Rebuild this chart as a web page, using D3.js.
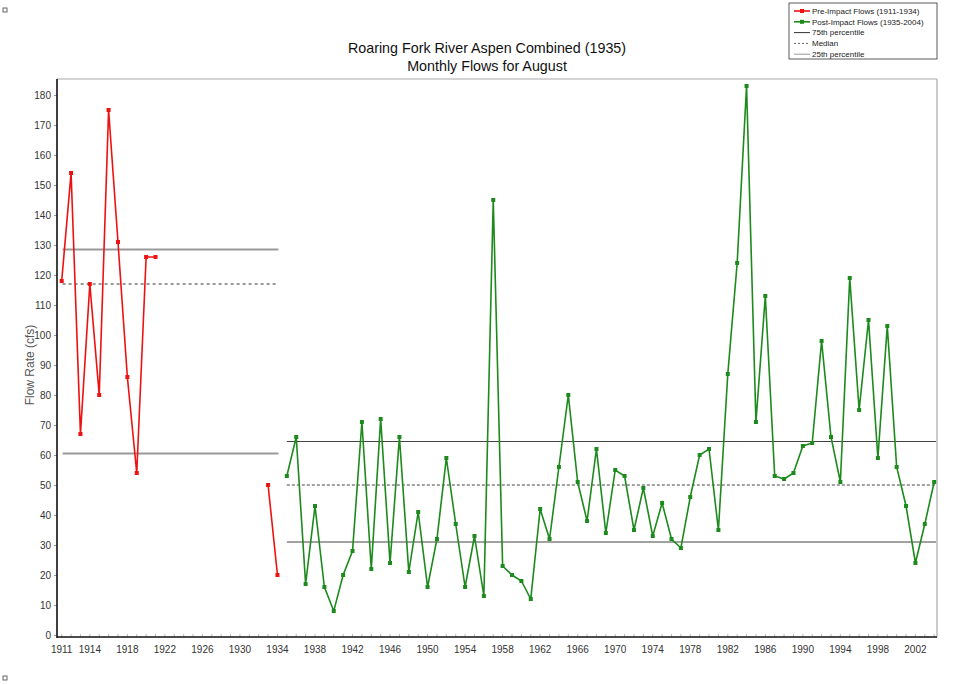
<!doctype html>
<html>
<head>
  <meta charset="utf-8">
  <script src="https://d3js.org/d3.v7.min.js"></script>
  <style>
    body {margin: 0; background: #fff;}
    text {font-family: "Liberation Sans", Arial, sans-serif;}
  </style>
</head>
<body>
  <svg id="chart" width="956" height="685"></svg>
  <script>
    const width = 956, height = 685

    // pre-impact flows, null = no record
    const preYears = [1911, 1912, 1913, 1914, 1915, 1916, 1917, 1918, 1919, 1920, 1921, 1922,
      1923, 1924, 1925, 1926, 1927, 1928, 1929, 1930, 1931, 1932, 1933, 1934]
    const preFlows = [118, 154, 67, 117, 80, 175, 131, 86, 54, 126, 126, null,
      null, null, null, null, null, null, null, null, null, null, 50, 20]

    const postYears = [1935, 1936, 1937, 1938, 1939, 1940, 1941, 1942, 1943, 1944,
      1945, 1946, 1947, 1948, 1949, 1950, 1951, 1952, 1953, 1954,
      1955, 1956, 1957, 1958, 1959, 1960, 1961, 1962, 1963, 1964,
      1965, 1966, 1967, 1968, 1969, 1970, 1971, 1972, 1973, 1974,
      1975, 1976, 1977, 1978, 1979, 1980, 1981, 1982, 1983, 1984,
      1985, 1986, 1987, 1988, 1989, 1990, 1991, 1992, 1993, 1994,
      1995, 1996, 1997, 1998, 1999, 2000, 2001, 2002, 2003, 2004]
    const postFlows = [53, 66, 17, 43, 16, 8, 20, 28, 71, 22,
      72, 24, 66, 21, 41, 16, 32, 59, 37, 16,
      33, 13, 145, 23, 20, 18, 12, 42, 32, 56,
      80, 51, 38, 62, 34, 55, 53, 35, 49, 33,
      44, 32, 29, 46, 60, 62, 35, 87, 124, 183,
      71, 113, 53, 52, 54, 63, 64, 98, 66, 51,
      119, 75, 105, 59, 103, 56, 43, 24, 37, 51]

    // 25th, median, 75th
    const prePct = [60.5, 117, 128.5]
    const postPct = [31, 50, 64.5]

    const xLabels = [1911, 1914, 1918, 1922, 1926, 1930, 1934, 1938, 1942, 1946, 1950, 1954,
      1958, 1962, 1966, 1970, 1974, 1978, 1982, 1986, 1990, 1994, 1998, 2002]
    const yTicks = [0, 10, 20, 30, 40, 50, 60, 70, 80, 90, 100, 110, 120, 130, 140, 150, 160, 170, 180]

    const legendLabels = ['Pre-Impact Flows (1911-1934)', 'Post-Impact Flows (1935-2004)',
      '75th percentile', 'Median', '25th percentile']

    const pLeft = 57, pRight = 937, pTop = 79, pBottom = 637
    const red = '#ee1111', green = '#1d8a1d'

    const x = d3.scaleLinear().domain([1910.5, 2004.3]).range([pLeft, pRight])
    const y = d3.scaleLinear().domain([0, 180]).range([635, 95])

    const svg = d3.select('#chart')

    // tiny corner boxes
    svg.append('rect').attr('x', 3).attr('y', 8).attr('width', 4).attr('height', 4)
      .attr('fill', '#fff').attr('stroke', '#666').attr('stroke-width', 1)
    svg.append('rect').attr('x', 3).attr('y', 676).attr('width', 4).attr('height', 4)
      .attr('fill', '#fff').attr('stroke', '#666').attr('stroke-width', 1)

    // title
    svg.append('text').attr('x', 487).attr('y', 53).attr('text-anchor', 'middle')
      .attr('font-size', 14.3).attr('fill', '#111').text('Roaring Fork River Aspen Combined (1935)')
    svg.append('text').attr('x', 487).attr('y', 71).attr('text-anchor', 'middle')
      .attr('font-size', 14.3).attr('fill', '#111').text('Monthly Flows for August')

    // frame
    svg.append('line').attr('x1', pLeft).attr('x2', pRight).attr('y1', pTop).attr('y2', pTop)
      .attr('stroke', '#aaa').attr('stroke-width', 1.2)
    svg.append('line').attr('x1', pRight).attr('x2', pRight).attr('y1', pTop).attr('y2', pBottom)
      .attr('stroke', '#aaa').attr('stroke-width', 1.2)

    // x axis: minor ticks every year, labels picked
    const allYears = d3.range(1911, 2005)
    const xAxis = svg.append('g').attr('transform', `translate(0,${pBottom})`)
    xAxis.selectAll('line.minor').data(allYears).join('line').attr('class', 'minor')
      .attr('x1', d => x(d)).attr('x2', d => x(d)).attr('y1', 0).attr('y2', -3)
      .attr('stroke', '#aaa').attr('stroke-width', 0.8)
    xAxis.selectAll('text').data(xLabels).join('text')
      .attr('x', d => x(d)).attr('y', 16).attr('text-anchor', 'middle')
      .attr('font-size', 10).attr('fill', '#333').text(d => d)
    xAxis.append('line').attr('x1', pLeft).attr('x2', pRight).attr('stroke', '#111').attr('stroke-width', 1.6)

    // y axis
    const yAxis = svg.append('g').attr('transform', `translate(${pLeft},0)`)
      .call(d3.axisLeft(y).tickValues(yTicks).tickSize(3).tickPadding(3))
    yAxis.select('.domain').remove()
    yAxis.selectAll('.tick line').attr('stroke', '#999')
    yAxis.selectAll('.tick text').attr('font-size', 10).attr('fill', '#333')
      .attr('font-family', '"Liberation Sans", Arial, sans-serif')
    svg.append('line').attr('x1', pLeft).attr('x2', pLeft).attr('y1', pTop).attr('y2', pBottom + 1)
      .attr('stroke', '#111').attr('stroke-width', 1.6)

    svg.append('text').attr('transform', 'translate(34,365) rotate(-90)')
      .attr('text-anchor', 'middle').attr('font-size', 12).attr('fill', '#555')
      .text('Flow Rate (cfs)')

    // percentile lines
    prePct.forEach((v, i) => {
      svg.append('line').attr('x1', x(1911.1)).attr('x2', x(1934.1))
        .attr('y1', y(v)).attr('y2', y(v))
        .attr('stroke', '#999').attr('stroke-width', 1.8)
        .attr('stroke-dasharray', i === 1 ? '3,3' : null)
    })
    postPct.forEach((v, i) => {
      svg.append('line').attr('x1', x(1935)).attr('x2', x(2004.2))
        .attr('y1', y(v)).attr('y2', y(v))
        .attr('stroke', '#444').attr('stroke-width', 1)
        .attr('stroke-dasharray', i === 1 ? '3,2' : null)
    })

    // series
    const pre = preYears.map((d, i) => ({year: d, v: preFlows[i]}))
    const post = postYears.map((d, i) => ({year: d, v: postFlows[i]}))
    const line = d3.line().defined(d => d.v !== null).x(d => x(d.year)).y(d => y(d.v))

    function drawSeries(data, col) {
      svg.append('path').datum(data).attr('d', line)
        .attr('fill', 'none').attr('stroke', col).attr('stroke-width', 1.6)
      svg.append('g').selectAll('rect').data(data.filter(d => d.v !== null)).join('rect')
        .attr('x', d => x(d.year) - 2).attr('y', d => y(d.v) - 2)
        .attr('width', 4).attr('height', 4).attr('fill', col)
    }
    drawSeries(pre, red)
    drawSeries(post, green)

    // legend
    const lg = svg.append('g')
    lg.append('rect').attr('x', 789).attr('y', 3).attr('width', 148).attr('height', 56)
      .attr('fill', '#fff').attr('stroke', '#333').attr('stroke-width', 0.8)
    legendLabels.forEach((t, i) => {
      const ly = 11 + i * 10.8
      let col = '#333', dash = null
      if (i === 0) col = red
      if (i === 1) col = green
      if (i === 3) {col = '#666'; dash = '2,2'}
      if (i === 4) col = '#999'
      lg.append('line').attr('x1', 794).attr('x2', 810).attr('y1', ly).attr('y2', ly)
        .attr('stroke', col).attr('stroke-width', i < 2 ? 1.6 : 1).attr('stroke-dasharray', dash)
      if (i < 2) {
        lg.append('rect').attr('x', 800).attr('y', ly - 2).attr('width', 4).attr('height', 4).attr('fill', col)
      }
      lg.append('text').attr('x', 812).attr('y', ly + 2.8).attr('font-size', 8).attr('fill', '#222').text(t)
    })
  </script>
</body>
</html>
